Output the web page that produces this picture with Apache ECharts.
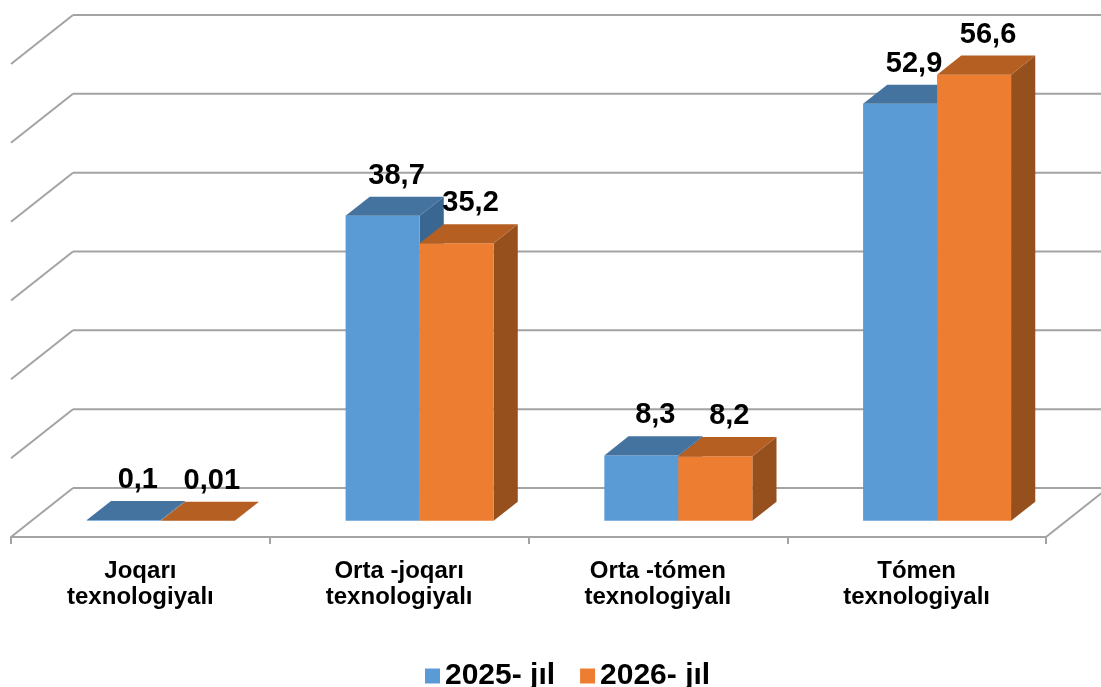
<!DOCTYPE html>
<html>
<head>
<meta charset="utf-8">
<script src="https://cdn.jsdelivr.net/npm/echarts@6/dist/echarts.min.js"></script>
<style>html,body{margin:0;padding:0;background:#fff;}#main{width:1101px;height:687px;}</style>
</head>
<body>
<div id="main"></div>
<script>
const categories = ['Joqarı\ntexnologiyalı', 'Orta -joqarı\ntexnologiyalı', 'Orta -tómen\ntexnologiyalı', 'Tómen\ntexnologiyalı'];
const seriesNames = ['2025- jıl', '2026- jıl'];
const values2025 = [0.1, 38.7, 8.3, 52.9];
const values2026 = [0.01, 35.2, 8.2, 56.6];
const gridTicks = [0, 10, 20, 30, 40, 50, 60];

const FONT = "'Liberation Sans', Arial, sans-serif";
const DX = 62, DY = 49;          // full floor depth offset
const F1 = 0.33, F2 = 0.72;      // bar front/back depth fractions
const BAR_FRAC = 0.286;          // bar width as fraction of category band
const palette = [
  { front: '#5B9BD5', top: '#44739F', side: '#3A6792' },
  { front: '#ED7D31', top: '#B65F22', side: '#96501E' }
];
const GRID_COLOR = '#a3a3a3';

function fmt(v) { return String(v).replace('.', ','); }

function wallRender(params, api) {
  const cs = params.coordSys;
  const v = api.value(1);
  const y = api.coord([0, v])[1];
  const x0 = cs.x, x1 = cs.x + cs.width;
  const style = { stroke: GRID_COLOR, lineWidth: 2, fill: null };
  const children = [
    { type: 'line', shape: { x1: x0 + DX, y1: y - DY, x2: x1 + DX, y2: y - DY }, style },
    { type: 'line', shape: { x1: x0, y1: y, x2: x0 + DX, y2: y - DY }, style }
  ];
  if (v === 0) {
    children.push({ type: 'line', shape: { x1: x1, y1: y, x2: x1 + DX, y2: y - DY }, style });
  }
  return { type: 'group', children };
}

function makeBarRender(sIdx) {
  return function (params, api) {
    const i = api.value(0);
    const v = api.value(1);
    const base = api.coord([i, 0]);
    const topP = api.coord([i, v]);
    const band = api.size([1, 0])[0];
    const W = band * BAR_FRAC;
    const fdx = F1 * DX, fdy = F1 * DY;
    const bdx = (F2 - F1) * DX, bdy = (F2 - F1) * DY;
    const x0 = (sIdx === 0 ? base[0] - W : base[0]) + fdx;
    const yb = base[1] - fdy;
    const yt = topP[1] - fdy;
    const c = palette[sIdx];
    const children = [
      { type: 'polygon', shape: { points: [[x0 + W, yt], [x0 + W + bdx, yt - bdy], [x0 + W + bdx, yb - bdy], [x0 + W, yb]] }, style: { fill: c.side } },
      { type: 'rect', shape: { x: x0, y: yt, width: W, height: Math.max(yb - yt, 0) }, style: { fill: c.front } },
      { type: 'polygon', shape: { points: [[x0, yt], [x0 + W, yt], [x0 + W + bdx, yt - bdy], [x0 + bdx, yt - bdy]] }, style: { fill: c.top } },
      { type: 'text', x: x0 + W / 2 + 14, y: yt - bdy - 21,
        style: { text: fmt(v), font: "bold 29px " + FONT, fill: '#000', align: 'center', verticalAlign: 'middle' }, z2: 10 }
    ];
    return { type: 'group', children };
  };
}

const chart = echarts.init(document.getElementById('main'), null, { renderer: 'canvas' });
chart.setOption({
  animation: false,
  backgroundColor: '#ffffff',
  grid: { left: 11, right: 55, top: 64, bottom: 150, containLabel: false },
  legend: {
    data: seriesNames,
    left: 420,
    top: 656,
    icon: 'rect',
    itemWidth: 15,
    itemHeight: 15,
    itemGap: 25,
    textStyle: { fontFamily: FONT, fontWeight: 'bold', fontSize: 30, color: '#000' }
  },
  xAxis: {
    type: 'category',
    data: categories,
    boundaryGap: true,
    axisLine: { show: true, lineStyle: { color: GRID_COLOR, width: 2 } },
    axisTick: { show: true, length: 7, interval: 0, lineStyle: { color: GRID_COLOR, width: 2 } },
    axisLabel: { interval: 0, margin: 21, fontFamily: FONT, fontWeight: 'bold', fontSize: 24, lineHeight: 26, color: '#000' },
    splitLine: { show: false }
  },
  yAxis: {
    type: 'value', min: 0, max: 60, interval: 10,
    show: false,
    splitLine: { show: false }
  },
  series: [
    { type: 'custom', name: 'walls', renderItem: wallRender, data: gridTicks.map(v => [0, v]), encode: { x: 0, y: 1 }, z: 1, silent: true },
    { type: 'custom', name: seriesNames[0], renderItem: makeBarRender(0), itemStyle: { color: palette[0].front },
      data: values2025.map((v, i) => [i, v]), encode: { x: 0, y: 1 }, z: 2 },
    { type: 'custom', name: seriesNames[1], renderItem: makeBarRender(1), itemStyle: { color: palette[1].front },
      data: values2026.map((v, i) => [i, v]), encode: { x: 0, y: 1 }, z: 3 }
  ]
});
</script>
</body>
</html>
